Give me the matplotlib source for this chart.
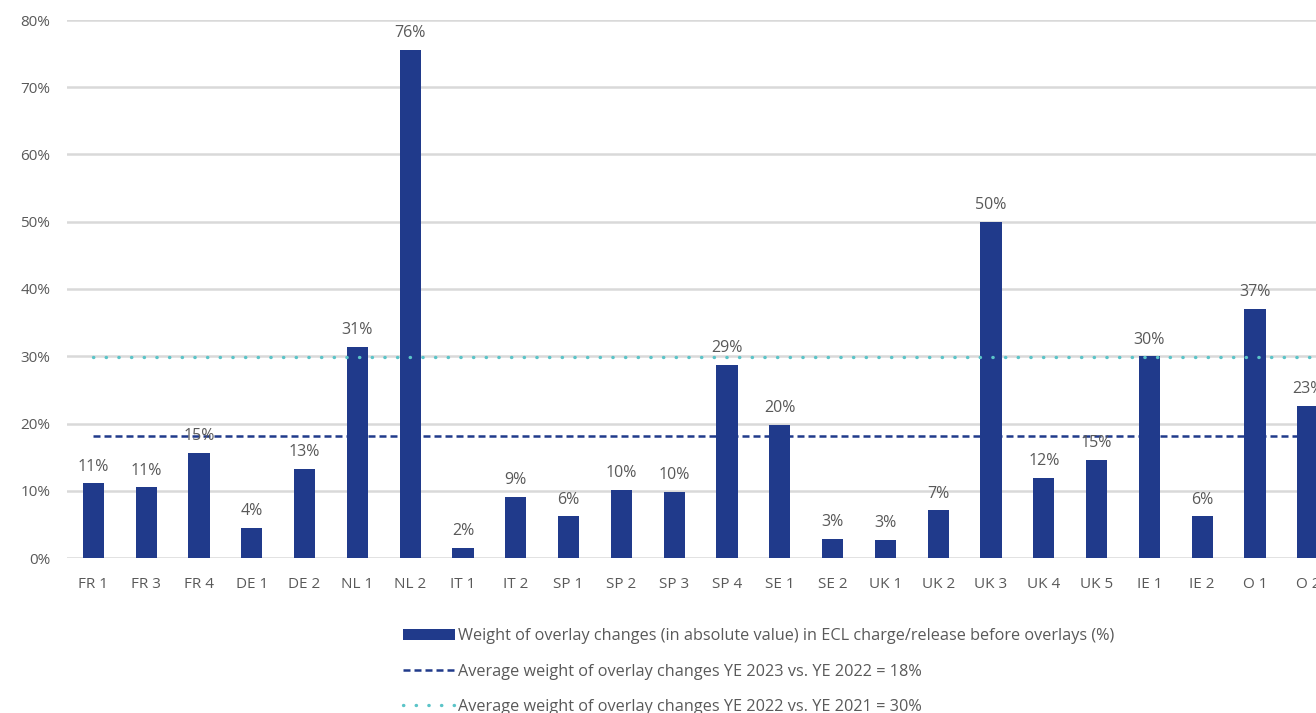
import numpy as np
import matplotlib.pyplot as plt

# categories and values
banks = ['FR 1', 'FR 3', 'FR 4', 'DE 1', 'DE 2', 'NL 1', 'NL 2', 'IT 1', 'IT 2',
         'SP 1', 'SP 2', 'SP 3', 'SP 4', 'SE 1', 'SE 2', 'UK 1', 'UK 2', 'UK 3',
         'UK 4', 'UK 5', 'IE 1', 'IE 2', 'O 1', 'O 2']
weights = [11.1, 10.5, 15.6, 4.5, 13.3, 31.4, 75.6, 1.5, 9.1,
           6.2, 10.1, 9.8, 28.7, 19.8, 2.8, 2.7, 7.1, 50.0,
           11.9, 14.6, 30.0, 6.2, 37.0, 22.6]
labels = ['11%', '11%', '15%', '4%', '13%', '31%', '76%', '2%', '9%',
          '6%', '10%', '10%', '29%', '20%', '3%', '3%', '7%', '50%',
          '12%', '15%', '30%', '6%', '37%', '23%']
avg_2023 = 18.1
avg_2022 = 29.9

bar_col = '#203A8B'
dot_col = '#5BC4C8'
txt_col = '#595959'

plt.rcParams['font.family'] = ['Open Sans', 'DejaVu Sans']

fig = plt.figure(figsize=(13.16, 7.13), dpi=100)
# axes run past the right edge, the reference is cropped there
ax = fig.add_axes([67/1316, 1-558/713, 1320/1316, (558-20)/713])

x = np.arange(len(banks))
bars = ax.bar(x, weights, 0.4, color=bar_col, zorder=3,
              label='Weight of overlay changes (in absolute value) in ECL charge/release before overlays (%)')
# average lines start at the first bank and carry on past the cropped edge
ends = [x[0], x[-1] + 1]
ax.plot(ends, [avg_2023]*2, color=bar_col, ls=(0, (2.8, 1.6)), lw=1.8, zorder=4,
        label='Average weight of overlay changes YE 2023 vs. YE 2022 = 18%')
ax.plot(ends, [avg_2022]*2, color=dot_col, ls=(0, (0.1, 3.7)), lw=2.4,
        dash_capstyle='round', zorder=4,
        label='Average weight of overlay changes YE 2022 vs. YE 2021 = 30%')

for b, lab in zip(bars, labels):
    ax.text(b.get_x() + b.get_width()/2, b.get_height() + 1.3, lab,
            ha='center', va='bottom', fontsize=11.5, color=txt_col, zorder=5)

ax.set_xlim(-0.5, len(banks) + 0.5)
ax.set_ylim(0, 80)
ax.set_yticks(np.arange(0, 81, 10))
ax.set_yticklabels([str(v) + '%' for v in range(0, 81, 10)])
ax.set_xticks(x)
ax.set_xticklabels(banks)
ax.tick_params(length=0, labelsize=11, labelcolor=txt_col)
ax.tick_params(axis='x', pad=14)
ax.tick_params(axis='y', pad=12)
ax.grid(axis='y', color='#D9D9D9', lw=1.8, zorder=0)
ax.set_axisbelow(True)
for s in ax.spines.values():
    s.set_visible(False)

h, l = ax.get_legend_handles_labels()
order = [2, 0, 1]
fig.legend([h[i] for i in order], [l[i] for i in order],
           loc='upper left', bbox_to_anchor=(403/1316, 1-628/713),
           frameon=False, fontsize=11.7, labelcolor=txt_col,
           handlelength=3.2, handletextpad=0.2, labelspacing=1.2,
           borderpad=0, borderaxespad=0)

fig.savefig('out.png', dpi=100)
